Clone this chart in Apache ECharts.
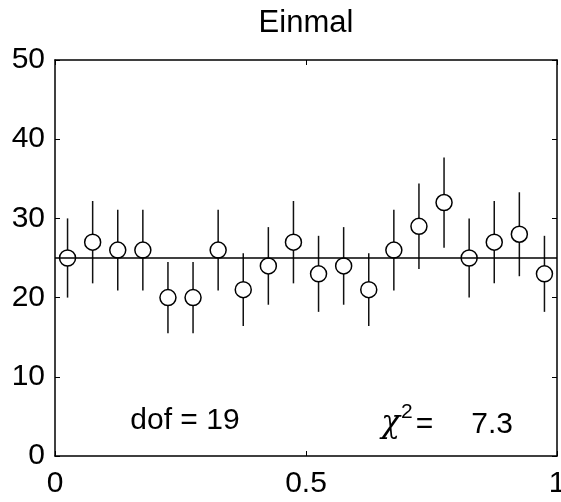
<!DOCTYPE html>
<html>
<head>
<meta charset="utf-8">
<script src="https://cdn.jsdelivr.net/npm/echarts@6/dist/echarts.min.js"></script>
<style>html,body{margin:0;padding:0;background:#fff;}#c{width:561px;height:502px;}</style>
</head>
<body>
<div id="c"></div>
<script>
var titleText = 'Einmal';
var binCenters = [0.025,0.075,0.125,0.175,0.225,0.275,0.325,0.375,0.425,0.475,0.525,0.575,0.625,0.675,0.725,0.775,0.825,0.875,0.925,0.975];
var counts = [25,27,26,26,20,20,26,21,24,27,23,24,21,26,29,32,25,27,28,23];
var errors = [5.0,5.2,5.1,5.1,4.5,4.5,5.1,4.6,4.9,5.2,4.8,4.9,4.6,5.1,5.4,5.7,5.0,5.2,5.3,4.8];
var fitLevel = 25;
var xTicks = [0, 0.5, 1];
var yTicks = [0, 10, 20, 30, 40, 50];
var dofLabel = 'dof = 19';
var chiValue = '7.3';
var annotations = [[0.15, 5], [0.65, 5]];

var FONT = 'Liberation Sans, Arial, Helvetica, sans-serif';
var pts = binCenters.map(function(x, i){ return [x, counts[i], errors[i]]; });

var chart = echarts.init(document.getElementById('c'), null, {renderer: 'canvas'});
var axisLine = {show: true, onZero: false, lineStyle: {color: '#000', width: 1.5}};
var axisTick = {show: true, inside: true, length: 5, lineStyle: {color: '#000', width: 1}};
var labelStyle = {color: '#000', fontSize: 30, fontFamily: FONT};

chart.setOption({
  animation: false,
  backgroundColor: '#fff',
  title: {
    text: titleText, left: 306, top: 8, textAlign: 'center', padding: 0,
    textStyle: {fontSize: 31, fontWeight: 'normal', color: '#000', fontFamily: FONT}
  },
  grid: {left: 55, right: 4, top: 60, bottom: 46, containLabel: false, outerBoundsMode: 'none'},
  xAxis: [
    {type: 'value', min: 0, max: 1, interval: 0.5, position: 'bottom',
     axisLine: axisLine, axisTick: axisTick, splitLine: {show: false},
     axisLabel: Object.assign({margin: 13, formatter: function(v){ return xTicks.indexOf(v) >= 0 ? String(v) : ''; }}, labelStyle)},
    {type: 'value', min: 0, max: 1, interval: 0.5, position: 'top',
     axisLine: axisLine, axisTick: axisTick, splitLine: {show: false}, axisLabel: {show: false}}
  ],
  yAxis: [
    {type: 'value', min: 0, max: 50, interval: 10, position: 'left',
     axisLine: axisLine, axisTick: axisTick, splitLine: {show: false},
     axisLabel: Object.assign({margin: 10, formatter: function(v){ return yTicks.indexOf(v) >= 0 ? String(v) : ''; }}, labelStyle)},
    {type: 'value', min: 0, max: 50, interval: 10, position: 'right',
     axisLine: axisLine, axisTick: axisTick, splitLine: {show: false}, axisLabel: {show: false}}
  ],
  series: [
    {
      type: 'custom', z: 1, data: pts,
      renderItem: function(params, api){
        var x = api.value(0), y = api.value(1), e = api.value(2);
        var a = api.coord([x, y + e]), b = api.coord([x, y - e]);
        return {type: 'line', shape: {x1: a[0], y1: a[1], x2: b[0], y2: b[1]},
                style: {stroke: '#111', lineWidth: 1.5}};
      }
    },
    {
      type: 'scatter', z: 2, data: pts.map(function(p){ return [p[0], p[1]]; }),
      symbol: 'circle', symbolSize: 16,
      itemStyle: {color: '#fff', borderColor: '#000', borderWidth: 1.5, opacity: 1}
    },
    {
      type: 'line', z: 3, data: [[0, fitLevel], [1, fitLevel]], symbol: 'none',
      lineStyle: {color: '#000', width: 1.5}
    },
    {
      type: 'scatter', z: 4, symbolSize: 0, data: annotations,
      itemStyle: {opacity: 1},
      label: {
        show: true, position: 'right', distance: 0, color: '#000', offset: [0, 4],
        fontSize: 30, fontFamily: FONT,
        formatter: function(p){
          if (p.dataIndex === 0) return '{t|' + dofLabel + '}';
          return '{chi|\u03C7}{sup|2}{t|=}{v|' + chiValue + '}';
        },
        rich: {
          t: {fontSize: 30, fontFamily: FONT, color: '#000', verticalAlign: 'bottom'},
          v: {fontSize: 30, fontFamily: FONT, color: '#000', verticalAlign: 'bottom', padding: [0, 0, 0, 38]},
          chi: {fontSize: 31, fontFamily: 'DejaVu Serif', fontStyle: 'italic', color: '#000', verticalAlign: 'bottom'},
          sup: {fontSize: 21, fontFamily: FONT, color: '#000', verticalAlign: 'bottom', padding: [0, 3, 17, 1]}
        }
      }
    }
  ]
});
</script>
</body>
</html>
